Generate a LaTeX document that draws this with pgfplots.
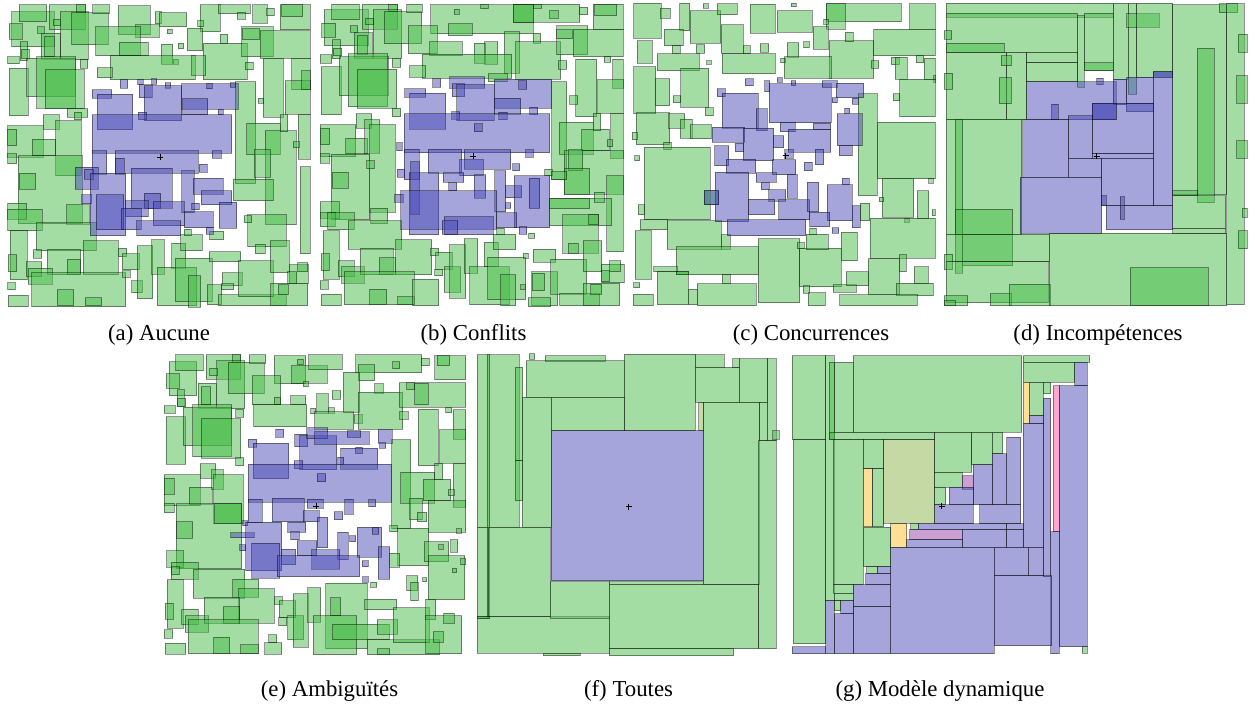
\documentclass[border=0pt]{standalone}
\usepackage{fontspec}
\setmainfont{Liberation Serif}
\usepackage{pgfplots}
\usepackage{pgfplotstable}
\pgfplotsset{compat=1.18}

% fills (single layer at 50% over white)
\definecolor{cg}{RGB}{71,187,71}
\definecolor{cb}{RGB}{75,75,185}
\definecolor{cy}{RGB}{255,189,45}
\definecolor{cp}{RGB}{255,75,165}
\definecolor{cm}{RGB}{155,65,169}
\definecolor{co}{RGB}{139,179,75}

\pgfdeclareplotmark{nomark}{}

% c: 0 green, 1 blue, 2 yellow, 3 pink, 4 purple, 5 olive
\pgfplotsset{
  panel/.style={hide axis, scale only axis, y dir=reverse, clip=false,
    xmin=0, ymin=0, anchor=north west},
  rects/.style={scatter, only marks, mark=nomark,
    visualization depends on={\thisrow{x2}-\thisrow{x1} \as \rw},
    visualization depends on={\thisrow{y2}-\thisrow{y1} \as \rh},
    visualization depends on={\thisrow{c} \as \rk},
    scatter/@pre marker code/.code={%
      \pgfmathtruncatemacro\kk{\rk}%
      \ifcase\kk\def\rc{cg}\or\def\rc{cb}\or\def\rc{cy}\or\def\rc{cp}\or\def\rc{cm}\else\def\rc{co}\fi
      \filldraw[fill=\rc, fill opacity=0.5, draw=black, draw opacity=0.42,
        line width=0.5pt] (0,0) rectangle (axis direction cs:\rw,\rh);},
    scatter/@post marker code/.code={}},
  ctr/.style={only marks, mark=+, mark size=1.5pt, black, line width=0.4pt},
}

% coordinates: pixels of the 3x zoom of each panel
\pgfplotstableread{
x1 y1 x2 y2 c
20 35 148 140 0
42 15 125 65 0
133 15 240 90 0
213 15 240 38 0
165 35 250 180 0
200 38 310 135 0
263 15 313 42 0
340 18 435 105 0
392 75 463 112 0
450 35 468 72 0
462 38 545 80 0
585 15 645 95 0
640 15 735 42 0
697 37 720 58 0
743 15 787 70 0
785 25 808 48 0
825 15 915 90 0
830 15 893 50 0
12 72 52 118 0
98 80 118 100 0
145 58 167 78 0
108 100 165 178 0
118 110 148 170 0
45 125 68 182 0
48 148 72 175 0
8 170 42 192 0
272 80 405 167 0
342 127 430 167 0
487 88 502 102 0
547 85 593 153 0
578 63 595 80 0
520 130 536 147 0
468 133 503 193 0
505 178 520 193 0
595 130 727 240 0
645 103 668 132 0
710 80 805 170 0
712 87 762 120 0
765 92 915 175 0
720 187 745 210 0
315 168 570 240 0
560 168 602 226 0
225 180 248 205 0
277 203 322 233 0
12 205 70 347 0
65 175 210 290 0
95 170 212 325 0
120 210 237 327 0
187 327 248 352 0
207 337 230 360 0
775 175 835 352 0
860 175 915 270 0
840 243 915 343 0
890 212 915 270 0
760 295 775 310 0
690 245 752 552 0
725 370 825 465 0
780 393 873 675 0
825 345 848 395 0
880 345 915 478 0
865 425 883 443 0
748 450 797 532 0
685 538 805 603 0
885 500 915 762 0
8 378 115 472 0
8 388 35 437 0
8 462 35 492 0
115 345 163 388 0
82 418 152 468 0
152 362 228 528 0
40 468 232 672 0
43 520 92 568 0
8 610 65 658 0
8 628 112 693 0
185 615 252 673 0
93 668 273 752 0
235 722 340 825 0
16 693 66 840 0
10 765 35 815 0
85 750 110 775 0
127 748 227 825 0
187 778 227 825 0
63 785 110 830 0
70 805 142 853 0
80 818 362 920 0
157 870 206 918 0
240 893 290 918 0
8 848 30 870 0
10 886 70 920 0
340 745 365 770 0
352 762 403 810 0
352 812 375 832 0
380 843 412 878 0
397 738 443 897 0
440 720 478 823 0
500 730 542 805 0
457 802 575 918 0
510 775 622 905 0
550 828 587 922 0
527 705 592 752 0
537 688 558 708 0
614 694 656 720 0
612 755 707 785 0
607 855 650 915 0
640 885 843 918 0
652 818 712 858 0
650 852 686 870 0
700 782 805 890 0
728 645 843 740 0
718 648 740 668 0
750 733 780 762 0
796 723 853 818 0
853 795 910 850 0
878 788 908 816 0
848 815 875 850 0
797 850 908 918 0
820 855 850 885 0
262 270 320 295 1
277 283 383 390 1
345 240 368 265 1
398 240 415 255 1
440 237 455 253 1
480 248 497 265 1
402 255 442 293 1
417 258 530 362 1
530 252 700 328 1
533 297 608 345 1
605 252 622 267 1
675 248 692 262 1
640 328 655 345 1
400 337 425 360 1
262 345 680 460 1
262 452 305 523 1
330 452 580 520 1
330 475 358 523 1
622 452 648 475 1
583 493 607 517 1
210 502 280 568 1
238 508 265 538 1
255 520 362 707 1
273 585 356 690 1
230 585 258 612 1
378 505 502 625 1
418 580 467 627 1
530 512 567 638 1
565 535 655 583 1
588 573 680 615 1
560 610 582 630 1
360 602 430 650 1
348 625 408 690 1
445 605 537 678 1
395 662 527 708 1
537 635 625 683 1
642 607 695 685 1
604 682 625 703 1
}\tA

\pgfplotstableread{
x1 y1 x2 y2 c
28 30 160 138 0
50 13 132 60 0
142 13 248 88 0
222 13 248 35 0
175 30 260 175 0
208 35 320 132 0
275 13 322 38 0
348 15 655 102 0
400 72 472 107 0
418 28 433 43 0
497 13 520 27 0
595 13 795 67 0
595 15 655 67 0
657 13 680 25 0
705 33 730 55 0
795 22 818 45 0
835 13 925 90 0
840 13 905 47 0
20 70 62 112 0
105 77 128 97 0
152 55 175 75 0
118 98 172 175 0
127 108 157 163 0
52 120 77 177 0
55 145 80 167 0
15 165 50 190 0
280 77 367 162 0
345 125 442 167 0
478 130 512 190 0
510 125 548 193 0
568 95 615 220 0
655 100 678 130 0
603 125 738 238 0
725 77 818 165 0
725 90 772 117 0
775 88 925 170 0
868 170 887 187 0
730 183 755 208 0
322 163 590 235 0
520 222 577 245 0
232 177 257 202 0
285 198 332 232 0
18 200 78 345 0
73 170 220 288 0
100 162 218 320 0
127 208 245 325 0
232 325 257 350 0
783 178 845 350 0
893 178 925 265 0
848 240 925 340 0
765 288 788 313 0
710 245 755 540 0
733 367 835 463 0
800 388 883 453 0
835 340 857 393 0
888 340 925 475 0
877 420 893 440 0
748 453 925 583 0
760 450 803 512 0
748 505 825 583 0
690 508 712 528 0
710 515 755 540 0
875 528 925 755 0
705 595 890 677 0
705 595 825 627 0
838 577 868 607 0
15 375 122 470 0
15 385 44 435 0
15 462 42 490 0
123 342 170 385 0
92 415 158 462 0
150 360 195 460 0
165 375 241 637 0
48 463 165 660 0
52 517 100 565 0
155 483 178 507 0
15 605 72 655 0
15 638 60 680 0
38 638 118 690 0
168 625 218 672 0
100 663 260 748 0
243 720 350 825 0
25 692 73 838 0
18 762 43 812 0
70 783 118 830 0
80 800 148 850 0
135 745 235 825 0
193 773 243 823 0
88 815 298 915 0
165 868 215 915 0
248 890 298 915 0
292 838 372 918 0
15 843 40 868 0
18 883 78 918 0
348 745 372 767 0
363 757 412 808 0
360 808 383 828 0
388 800 437 877 0
405 735 452 895 0
448 717 488 820 0
508 727 550 800 0
465 800 583 915 0
518 772 632 900 0
558 825 602 918 0
535 703 602 750 0
545 685 568 705 0
642 700 660 715 0
625 760 640 775 0
618 855 633 870 0
655 748 722 787 0
650 815 728 918 0
652 820 690 873 0
640 893 707 920 0
708 778 815 883 0
735 880 855 918 0
743 645 850 760 0
760 730 790 760 0
805 722 860 815 0
822 645 850 675 0
860 793 928 848 0
885 783 918 815 0
860 813 885 845 0
805 850 915 917 0
828 853 860 883 0
270 267 333 292 1
285 280 392 388 1
353 237 377 262 1
405 230 510 265 1
412 252 450 290 1
425 255 538 362 1
538 238 710 325 1
538 295 617 343 1
612 243 635 268 1
645 322 668 345 1
410 335 435 358 1
552 337 577 360 1
268 342 705 458 1
478 372 502 396 1
268 448 313 540 1
340 448 440 520 1
448 450 588 508 1
435 480 505 527 1
632 450 655 472 1
593 492 615 513 1
245 428 262 452 1
247 508 270 532 1
283 518 372 705 1
288 485 313 643 1
385 518 447 547 1
402 548 425 572 1
478 525 512 595 1
540 512 573 635 1
573 558 620 593 1
573 608 588 625 1
598 527 705 683 1
643 535 675 625 1
240 583 265 607 1
258 573 545 688 1
388 650 535 705 1
382 662 428 703 1
545 638 605 683 1
613 680 635 703 1
}\tB

\pgfplotstableread{
x1 y1 x2 y2 c
17 10 100 115 0
97 25 127 55 0
155 10 185 93 0
187 33 278 130 0
225 12 240 25 0
268 12 328 45 0
367 13 442 100 0
448 33 552 97 0
490 10 505 20 0
595 12 820 65 0
595 12 652 88 0
587 58 602 73 0
845 12 922 88 0
108 88 165 137 0
133 138 157 160 0
205 135 230 160 0
280 75 345 160 0
345 138 367 162 0
397 132 422 157 0
555 80 600 148 0
477 128 512 172 0
527 125 543 143 0
603 123 737 235 0
652 97 676 125 0
737 88 922 168 0
28 123 72 190 0
88 162 213 212 0
236 182 250 193 0
283 162 441 222 0
458 175 473 188 0
469 170 610 235 0
730 183 752 205 0
790 172 813 195 0
802 172 837 238 0
865 168 887 188 0
888 175 922 240 0
917 227 922 247 0
17 200 83 342 0
82 237 125 317 0
135 287 158 308 0
158 205 242 322 0
232 323 255 347 0
795 282 815 302 0
815 238 922 350 0
690 282 747 588 0
747 367 922 537 0
25 338 125 435 0
122 342 170 385 0
157 358 192 415 0
187 375 250 417 0
13 397 28 420 0
107 427 130 450 0
20 467 35 482 0
48 442 247 660 0
30 615 48 645 0
228 573 272 615 0
763 535 857 652 0
902 537 915 550 0
867 573 902 657 0
753 592 767 605 0
912 630 922 648 0
697 610 725 662 0
830 655 843 667 0
37 660 118 690 0
118 662 280 748 0
280 705 307 748 0
145 740 390 825 0
22 692 70 838 0
77 800 148 815 0
87 815 180 915 0
145 815 182 825 0
180 868 207 915 0
207 852 385 918 0
283 825 307 852 0
390 717 515 908 0
508 728 528 747 0
515 745 640 860 0
535 703 600 750 0
545 685 565 705 0
615 855 685 877 0
525 858 545 880 0
540 878 592 918 0
640 697 688 783 0
655 815 722 857 0
727 655 922 775 0
720 777 815 883 0
813 765 835 815 0
858 800 900 852 0
805 850 915 888 0
635 885 868 918 0
17 848 35 863 0
15 883 76 918 0
268 267 292 290 1
283 280 390 385 1
352 237 375 258 1
385 327 418 393 1
410 243 425 275 1
447 233 462 247 1
490 243 503 258 1
423 252 610 368 1
583 243 628 262 1
625 250 707 293 1
612 293 627 308 1
673 295 690 313 1
650 325 665 340 1
628 342 703 437 1
633 437 673 468 1
457 368 502 395 1
555 370 608 390 1
480 388 608 457 1
252 382 350 427 1
345 385 437 483 1
437 408 467 443 1
322 430 347 455 1
260 438 302 498 1
295 478 383 520 1
470 450 495 475 1
562 448 587 495 1
433 480 503 525 1
528 487 553 512 1
385 518 445 547 1
400 548 423 570 1
477 525 508 595 1
262 517 362 665 1
422 570 473 604 1
362 598 440 645 1
452 600 545 660 1
538 547 572 635 1
598 555 673 663 1
643 535 663 555 1
673 618 697 683 1
545 637 605 680 1
298 660 533 707 1
613 683 632 700 1
228 573 272 615 1
}\tC

\pgfplotstableread{
x1 y1 x2 y2 c
18 10 520 52 0
18 40 412 157 0
412 48 433 262 0
433 40 520 212 0
433 188 520 212 0
520 10 565 238 0
565 10 590 283 0
560 42 658 82 0
590 10 698 232 0
698 15 860 585 0
838 12 893 38 0
860 12 912 915 0
895 103 922 157 0
890 227 922 310 0
890 422 922 475 0
907 625 922 652 0
895 693 922 746 0
772 145 822 608 0
698 572 772 588 0
12 92 35 118 0
18 130 192 157 0
18 157 200 360 0
200 157 260 360 0
183 167 213 197 0
177 233 213 312 0
12 220 38 268 0
260 157 412 188 0
260 188 412 245 0
18 358 245 703 0
45 358 68 820 0
45 628 218 703 0
68 703 218 798 0
18 703 328 785 0
12 763 38 810 0
18 785 325 908 0
12 887 83 918 0
12 903 45 918 0
150 882 213 918 0
208 853 332 918 0
328 700 860 918 0
570 803 805 918 0
698 588 857 685 0
698 685 857 700 0
470 235 490 255 1
640 215 698 232 1
260 245 528 360 1
335 313 355 360 1
520 238 560 315 1
560 232 640 310 1
558 310 640 335 1
640 215 698 618 1
457 310 640 462 1
457 310 528 360 1
385 347 457 475 1
248 360 385 532 1
457 462 640 475 1
385 475 485 532 1
240 532 485 700 1
485 475 640 618 1
498 618 698 690 1
483 588 498 618 1
540 590 553 658 1
}\tD

\pgfplotstableread{
x1 y1 x2 y2 c
28 35 110 138 0
47 15 130 62 0
138 15 243 88 0
217 15 243 38 0
170 32 255 177 0
205 37 313 132 0
268 15 317 40 0
343 18 438 102 0
395 47 502 100 0
412 28 430 45 0
430 95 445 110 0
447 15 547 60 0
588 15 785 68 0
595 45 645 92 0
698 35 720 57 0
785 25 808 47 0
825 18 917 90 0
832 18 870 48 0
18 72 58 115 0
150 55 172 77 0
115 100 170 175 0
123 110 153 165 0
52 120 73 170 0
52 145 77 170 0
13 168 45 190 0
277 78 362 165 0
343 142 363 165 0
393 137 437 165 0
282 165 440 230 0
453 175 468 192 0
470 132 505 190 0
505 173 523 190 0
517 123 542 148 0
465 185 582 238 0
550 67 600 187 0
583 195 607 220 0
645 102 670 130 0
595 127 728 238 0
718 98 917 172 0
740 98 765 120 0
765 100 805 165 0
720 185 745 208 0
858 172 875 188 0
18 200 77 343 0
70 172 215 287 0
98 165 215 320 0
123 207 242 325 0
228 178 252 202 0
228 323 252 348 0
775 178 835 348 0
880 180 917 268 0
840 240 917 340 0
880 340 917 472 0
695 270 752 537 0
723 367 825 460 0
790 388 872 453 0
825 340 848 390 0
865 420 883 438 0
750 445 787 510 0
772 487 800 515 0
805 452 917 547 0
713 535 807 648 0
690 528 712 545 0
690 610 720 652 0
793 575 866 635 0
837 585 850 598 0
873 570 893 607 0
890 537 905 550 0
805 618 915 750 0
903 627 917 645 0
877 655 890 668 0
13 375 120 468 0
13 385 42 433 0
13 460 42 488 0
120 342 167 385 0
88 412 157 463 0
155 360 190 418 0
162 375 250 522 0
48 462 245 657 0
165 462 245 522 0
50 515 98 565 0
20 603 70 652 0
33 637 115 688 0
35 650 58 675 0
100 658 255 745 0
218 688 297 742 0
237 717 343 820 0
22 690 70 835 0
15 760 40 808 0
65 778 115 825 0
75 798 147 847 0
132 742 240 820 0
190 770 238 820 0
85 810 295 912 0
162 862 210 912 0
243 885 295 912 0
13 840 38 865 0
15 880 77 913 0
343 740 367 763 0
358 752 407 803 0
357 803 380 827 0
327 855 350 878 0
315 878 365 913 0
383 798 432 870 0
400 732 445 892 0
443 713 482 817 0
498 700 622 897 0
512 743 542 797 0
460 797 590 915 0
518 823 688 870 0
615 748 710 780 0
652 810 713 853 0
622 870 840 915 0
652 897 690 915 0
700 773 808 878 0
740 677 773 722 0
752 697 775 752 0
788 683 800 695 0
797 748 827 810 0
797 798 905 912 0
852 790 883 820 0
820 845 850 877 0
633 697 650 712 0
607 632 625 650 1
608 680 625 697 1
265 268 290 292 1
280 280 387 387 1
348 238 372 262 1
405 253 443 290 1
420 257 530 360 1
440 233 503 267 1
465 245 628 283 1
562 243 603 262 1
655 240 697 280 1
660 278 677 295 1
543 295 653 358 1
588 292 607 310 1
533 322 552 343 1
403 333 428 357 1
265 343 695 457 1
472 372 497 395 1
265 448 307 518 1
337 445 433 515 1
442 448 490 475 1
430 482 478 515 1
555 448 580 493 1
627 450 647 470 1
523 485 548 510 1
248 512 263 527 1
213 548 283 563 1
240 585 257 602 1
258 517 365 662 1
276 580 360 685 1
383 517 437 547 1
393 545 418 570 1
472 502 503 593 1
533 547 565 630 1
570 558 587 575 1
592 532 665 622 1
637 533 657 553 1
655 590 690 688 1
365 598 407 645 1
412 573 470 618 1
455 600 540 658 1
352 618 600 680 1
}\tE

\pgfplotstableread{
x1 y1 x2 y2 c
15 15 142 532 0
15 532 48 807 0
45 15 53 807 0
130 52 152 333 0
130 333 152 452 0
172 12 188 28 0
220 18 400 35 0
162 33 457 142 0
457 13 670 242 0
670 15 757 52 0
670 52 802 157 0
782 27 802 52 0
802 27 887 157 0
887 27 912 272 0
862 157 887 272 0
902 243 922 268 0
150 142 238 532 0
238 142 457 242 0
680 157 695 242 5
695 157 862 705 0
858 272 912 897 0
48 532 235 800 0
15 800 412 910 0
15 800 53 807 0
235 695 412 805 0
412 705 858 897 0
412 695 695 705 0
412 897 785 918 0
213 910 325 918 0
238 242 695 693 1
}\tF

\pgfplotstableread{
x1 y1 x2 y2 c
22 18 122 270 0
24 270 122 882 0
122 18 147 752 0
133 37 147 270 0
147 37 205 247 0
205 18 710 247 0
715 18 915 37 0
715 37 870 97 0
735 97 775 197 0
775 97 797 132 0
133 247 450 270 0
145 270 235 705 0
235 270 297 357 0
262 357 297 530 0
297 270 450 520 5
450 247 560 367 0
560 247 622 345 0
622 247 653 312 0
450 367 532 412 0
450 412 482 465 0
235 532 317 650 0
245 650 277 672 0
145 705 205 730 0
147 730 205 752 0
147 752 167 782 0
377 522 400 540 0
892 890 907 910 0
235 357 262 530 2
715 97 735 222 2
317 522 365 592 2
805 108 823 545 3
375 540 532 570 4
532 378 565 418 4
870 37 907 108 1
823 108 907 890 1
797 545 823 912 1
775 145 797 680 1
735 197 775 222 1
715 222 775 592 1
665 262 708 465 1
622 312 665 465 1
565 345 622 465 1
493 412 565 465 1
450 465 565 522 1
585 465 708 522 1
400 522 665 540 1
665 522 715 540 1
532 540 665 592 1
665 540 715 592 1
365 570 532 592 1
317 592 628 912 1
628 592 730 678 1
730 592 775 678 1
628 678 800 888 1
277 650 317 672 1
242 672 317 705 1
205 705 317 770 1
205 770 317 912 1
167 752 205 792 1
147 792 205 912 1
122 752 147 912 1
22 890 122 912 1
}\tG

\begin{document}
\begin{tikzpicture}
\path[use as bounding box] (0,0) rectangle (627.5pt,-352pt);

% top row
\begin{axis}[panel, at={(2.5pt,0pt)}, width=152.5pt, height=155pt, xmax=915, ymax=930]
\addplot[rects] table[x=x1, y=y1] {\tA};
\addplot[ctr] coordinates {(466,472)};
\end{axis}
\begin{axis}[panel, at={(157.5pt,0pt)}, width=155pt, height=155pt, xmax=930, ymax=930]
\addplot[rects] table[x=x1, y=y1] {\tB};
\addplot[ctr] coordinates {(475,468)};
\end{axis}
\begin{axis}[panel, at={(314pt,0pt)}, width=153.5pt, height=155pt, xmax=921, ymax=930]
\addplot[rects] table[x=x1, y=y1] {\tC};
\addplot[ctr] coordinates {(473,467)};
\end{axis}
\begin{axis}[panel, at={(470pt,0pt)}, width=156pt, height=155pt, xmax=936, ymax=930]
\addplot[rects] table[x=x1, y=y1] {\tD};
\addplot[ctr] coordinates {(470,468)};
\end{axis}

% bottom row
\begin{axis}[panel, at={(80pt,-175pt)}, width=155pt, height=155pt, xmax=930, ymax=930]
\addplot[rects] table[x=x1, y=y1] {\tE};
\addplot[ctr] coordinates {(468,468)};
\end{axis}
\begin{axis}[panel, at={(236pt,-175pt)}, width=156pt, height=155pt, xmax=936, ymax=930]
\addplot[rects] table[x=x1, y=y1] {\tF};
\addplot[ctr] coordinates {(470,470)};
\end{axis}
\begin{axis}[panel, at={(392.5pt,-175pt)}, width=155pt, height=155pt, xmax=930, ymax=930]
\addplot[rects] table[x=x1, y=y1] {\tG};
\addplot[ctr] coordinates {(470,468)};
\end{axis}

\begin{scope}[every node/.style={anchor=base, inner sep=0pt, font=\fontsize{11.4pt}{13pt}\selectfont}]
\node at (79.5pt,-170.5pt) {(a) Aucune};
\node at (236.75pt,-170.5pt) {(b) Conflits};
\node at (405.5pt,-170.5pt) {(c) Concurrences};
\node at (549pt,-170.5pt) {(d) Incompétences};
\node at (164.75pt,-348.5pt) {(e) Ambiguïtés};
\node at (314.25pt,-348.5pt) {(f) Toutes};
\node at (470pt,-348.5pt) {(g) Modèle dynamique};
\end{scope}
\end{tikzpicture}
\end{document}
